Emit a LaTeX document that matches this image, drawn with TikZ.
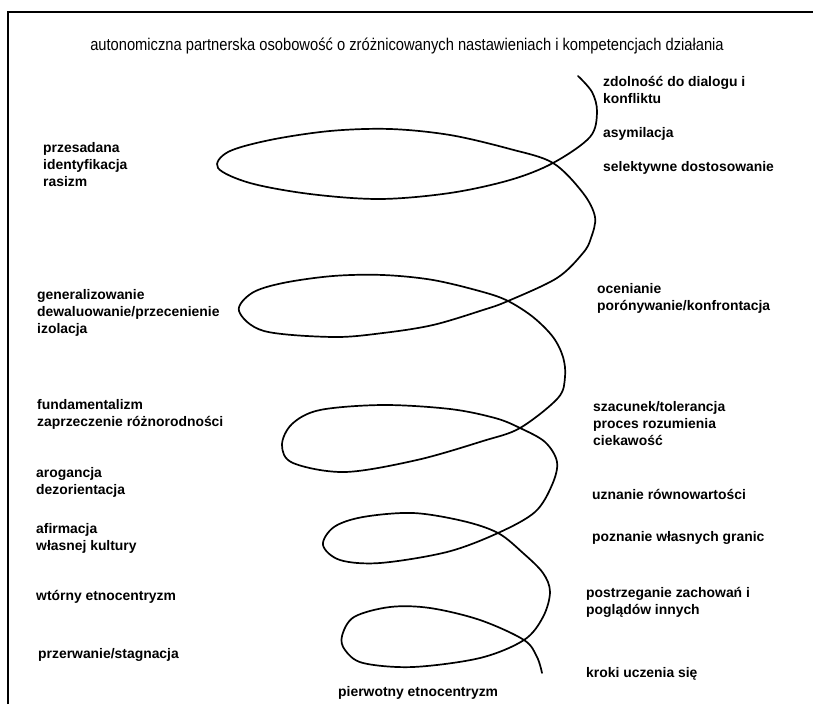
\documentclass[tikz,border=0pt]{standalone}
\usepackage{fontspec}
\setmainfont{Liberation Sans}
\newfontfamily\titlefont[FakeStretch=0.865]{Liberation Sans}
\begin{document}
\begin{tikzpicture}[x=1pt,y=-1pt,
  lbl/.style={anchor=base west,align=left,inner sep=0pt,font=\fontsize{13.9}{17}\selectfont\bfseries},
  ttl/.style={anchor=base,inner sep=0pt,font=\titlefont\fontsize{17}{19}\selectfont},
  spiral/.style={line width=1.7pt,line cap=round,line join=round}]
\useasboundingbox (0,0) rectangle (813,704);
\draw[line width=1.8pt] (8,704) -- (8,12) -- (813,12);
\node[ttl] (title) at (407,50.5) {autonomiczna partnerska osobowość o zróżnicowanych nastawieniach i kompetencjach działania};
% left labels (y = baseline of the last line)
\node[lbl] (l1) at (43,186.5) {przesadana\\identyfikacja\\rasizm};
\node[lbl] (l2) at (37,333.5) {generalizowanie\\dewaluowanie/przecenienie\\izolacja};
\node[lbl] (l3) at (37,426.5) {fundamentalizm\\zaprzeczenie różnorodności};
\node[lbl] (l4) at (36,494.5) {arogancja\\dezorientacja};
\node[lbl] (l5) at (36,550.5) {afirmacja\\własnej kultury};
\node[lbl] (l6) at (36,600.5) {wtórny etnocentryzm};
\node[lbl] (l7) at (38,658.5) {przerwanie/stagnacja};
% right labels
\node[lbl] (r1) at (603,103.5) {zdolność do dialogu i\\konfliktu};
\node[lbl] (r2) at (603,137.5) {asymilacja};
\node[lbl] (r3) at (603,171.5) {selektywne dostosowanie};
\node[lbl] (r4) at (597,310.5) {ocenianie\\porónywanie/konfrontacja};
\node[lbl] (r5) at (593,445.5) {szacunek/tolerancja\\proces rozumienia\\ciekawość};
\node[lbl] (r6) at (592,499.5) {uznanie równowartości};
\node[lbl] (r7) at (592,541.5) {poznanie własnych granic};
\node[lbl] (r8) at (586,614.5) {postrzeganie zachowań i\\poglądów innych};
\node[lbl] (r9) at (586,677.5) {kroki uczenia się};
\node[lbl] (bottom) at (338,696.5) {pierwotny etnocentryzm};
% spiral
\draw[spiral] plot[smooth,tension=0.55] coordinates {
 (578,76) (592,92) (597,112) (590,137) (553,163)
 (510,180) (450,193) (380,199) (310,194) (250,183) (218,168)
 (228,152) (270,140) (330,131) (390,129) (450,135) (510,149) (553,163)
 (583,193) (595,217) (591,238) (583,253) (557,278) (508,301)
 (483,310) (433,325) (383,333) (333,337) (264,331) (239,311)
 (252,293) (283,283) (333,276) (383,275) (433,280) (483,292) (508,301)
 (533,317) (553,337) (563,357) (565,377) (558,398) (520,428)
 (483,441) (417,460) (345,472) (293,463) (282,445)
 (292,424) (320,410) (383,405) (450,409) (495,418) (520,428)
 (545,442) (557,462) (552,485) (535,512) (498,533)
 (447,552) (380,563) (340,560) (323,545)
 (334,527) (363,517) (413,513) (463,521) (498,533)
 (523,553) (543,573) (550,592) (543,617) (524,640)
 (480,658) (413,667) (363,663) (345,650) (342,636)
 (354,617) (390,607) (430,608) (480,620) (524,640)
 (537,657) (542,673)
};
\end{tikzpicture}
\end{document}
